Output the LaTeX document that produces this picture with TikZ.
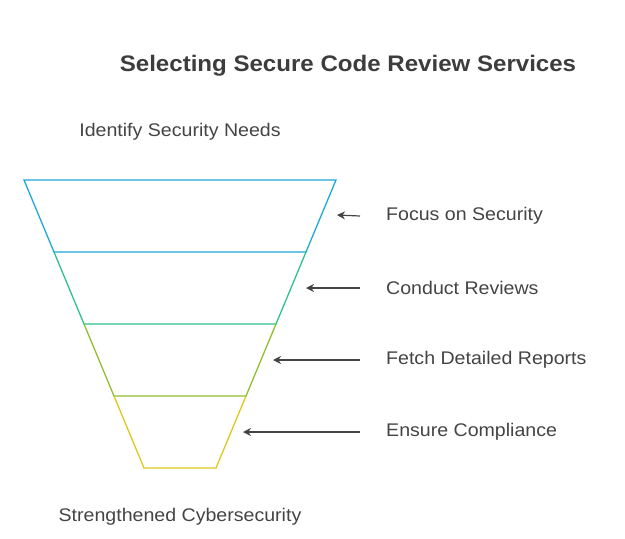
\documentclass[tikz,border=0pt]{standalone}
\usepackage{fontspec}
\setmainfont{Liberation Sans}[FakeStretch=1.07]
\usetikzlibrary{arrows.meta}
\definecolor{cA}{HTML}{1DA6D8}
\definecolor{cB}{HTML}{2EC08C}
\definecolor{cC}{HTML}{8EBE2E}
\definecolor{cD}{HTML}{DCC81C}
\definecolor{txt}{HTML}{444444}
\begin{document}
\begin{tikzpicture}[x=1pt,y=-1pt,
  seg/.style={line width=1.3pt},
  lbl/.style={anchor=west,text=txt,font=\fontsize{18.3}{21}\selectfont,inner sep=0},
  endlbl/.style={text=txt,font=\fontsize{18.3}{21}\selectfont,inner sep=0},
  arr/.style={draw=txt,line width=1.2pt,-{Stealth[length=8pt,width=8pt]}}]
\useasboundingbox (0,0) rectangle (625,539);
\node[font=\bfseries\fontsize{22.5}{26}\selectfont,text=txt!90!black] (title) at (348,66) {Selecting Secure Code Review Services};
\node[endlbl] (top) at (180,132) {Identify Security Needs};
\node[endlbl] (bot) at (180,517) {Strengthened Cybersecurity};
\draw[seg,cA] (54,252) -- (24,180) -- (336,180) -- (306,252) -- cycle;
\draw[seg,cB] (54,252) -- (84,324) -- (276,324) -- (306,252);
\draw[seg,cC] (84,324) -- (114,396) -- (246,396) -- (276,324);
\draw[seg,cD] (114,396) -- (144,468) -- (216,468) -- (246,396);
\coordinate (s1) at (337,215);
\coordinate (s2) at (306,288);
\coordinate (s3) at (273,360);
\coordinate (s4) at (243,432);
\node[lbl] (l1) at (386,216) {Focus on Security};
\node[lbl] (l2) at (386,288) {Conduct Reviews};
\node[lbl] (l3) at (386,360) {Fetch Detailed Reports};
\node[lbl] (l4) at (386,432) {Ensure Compliance};
\foreach \i in {1,2,3,4}{
  \draw[arr] ([xshift=-26pt]l\i.west) -- (s\i);
}
\end{tikzpicture}
\end{document}
